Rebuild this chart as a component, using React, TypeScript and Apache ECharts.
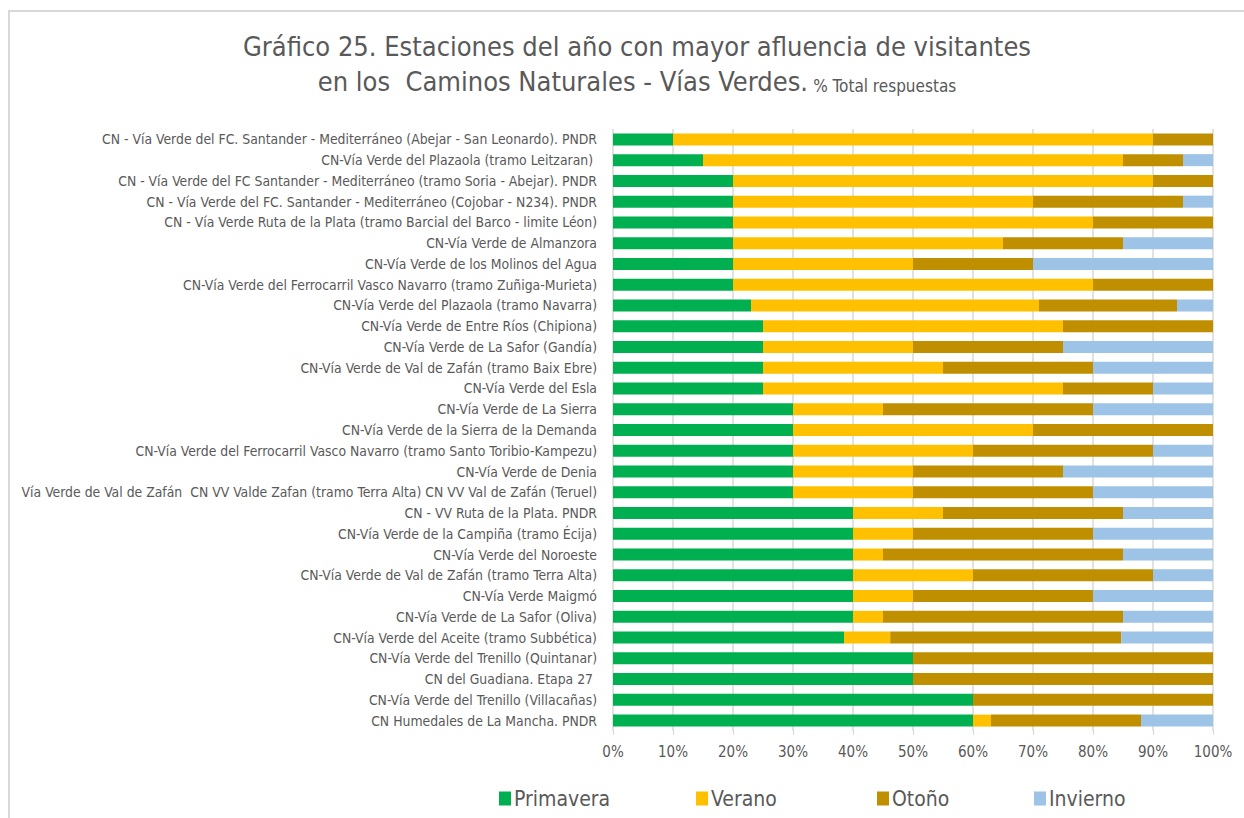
import React, { useEffect, useRef } from "react";
import * as echarts from "echarts";

const categories = [
  "CN - Vía Verde del FC. Santander - Mediterráneo (Abejar - San Leonardo). PNDR",
  "CN-Vía Verde del Plazaola (tramo Leitzaran) ",
  "CN - Vía Verde del FC Santander - Mediterráneo (tramo Soria - Abejar). PNDR",
  "CN - Vía Verde del FC. Santander - Mediterráneo (Cojobar - N234). PNDR",
  "CN - Vía Verde Ruta de la Plata (tramo Barcial del Barco - limite Léon)",
  "CN-Vía Verde de Almanzora",
  "CN-Vía Verde de los Molinos del Agua",
  "CN-Vía Verde del Ferrocarril Vasco Navarro (tramo Zuñiga-Murieta)",
  "CN-Vía Verde del Plazaola (tramo Navarra)",
  "CN-Vía Verde de Entre Ríos (Chipiona)",
  "CN-Vía Verde de La Safor (Gandía)",
  "CN-Vía Verde de Val de Zafán (tramo Baix Ebre)",
  "CN-Vía Verde del Esla",
  "CN-Vía Verde de La Sierra",
  "CN-Vía Verde de la Sierra de la Demanda",
  "CN-Vía Verde del Ferrocarril Vasco Navarro (tramo Santo Toribio-Kampezu)",
  "CN-Vía Verde de Denia",
  "Vía Verde de Val de Zafán  CN VV Valde Zafan (tramo Terra Alta) CN VV Val de Zafán (Teruel)",
  "CN - VV Ruta de la Plata. PNDR",
  "CN-Vía Verde de la Campiña (tramo Écija)",
  "CN-Vía Verde del Noroeste",
  "CN-Vía Verde de Val de Zafán (tramo Terra Alta)",
  "CN-Vía Verde Maigmó",
  "CN-Vía Verde de La Safor (Oliva)",
  "CN-Vía Verde del Aceite (tramo Subbética)",
  "CN-Vía Verde del Trenillo (Quintanar)",
  "CN del Guadiana. Etapa 27 ",
  "CN-Vía Verde del Trenillo (Villacañas)",
  "CN Humedales de La Mancha. PNDR",
];

const primavera = [10, 15, 20, 20, 20, 20, 20, 20, 23, 25, 25, 25, 25, 30, 30, 30, 30, 30, 40, 40, 40, 40, 40, 40, 38.5, 50, 50, 60, 60];
const verano = [80, 70, 70, 50, 60, 45, 30, 60, 48, 50, 25, 30, 50, 15, 40, 30, 20, 20, 15, 10, 5, 20, 10, 5, 7.7, 0, 0, 0, 3];
const otono = [10, 10, 10, 25, 20, 20, 20, 20, 23, 25, 25, 25, 15, 35, 30, 30, 25, 30, 30, 30, 40, 30, 30, 40, 38.5, 50, 50, 40, 25];
const invierno = [0, 5, 0, 5, 0, 15, 30, 0, 6, 0, 25, 20, 10, 20, 0, 10, 25, 20, 15, 20, 15, 10, 20, 15, 15.4, 0, 0, 0, 12];

const seriesNames = ["Primavera", "Verano", "Otoño", "Invierno"];
const seriesColors = ["#00B050", "#FFC000", "#BF8F00", "#9DC3E6"];
const xTicks = [0, 10, 20, 30, 40, 50, 60, 70, 80, 90, 100];

const FONT = "'Liberation Sans Narrow', 'DejaVu Sans Condensed', 'Open Sans', sans-serif";

export default function App() {
  const ref = useRef<HTMLDivElement>(null);
  useEffect(() => {
    if (!ref.current) return;
    const chart = echarts.init(ref.current, null, { renderer: "svg" });
    const values = [primavera, verano, otono, invierno];
    const legendLefts = [494, 691, 872, 1029];
    chart.setOption({
      animation: false,
      backgroundColor: "#ffffff",
      textStyle: { fontFamily: FONT },
      title: {
        left: 632,
        top: 24,
        textAlign: "center",
        text:
          "{a|Gráfico 25. Estaciones del año con mayor afluencia de visitantes}\n{a|en los  Caminos Naturales - Vías Verdes.} {b|% Total respuestas}",
        textStyle: {
          fontWeight: "normal",
          rich: {
            a: { fontFamily: FONT, fontSize: 27, fontWeight: "normal", color: "#595959", lineHeight: 35 },
            b: { fontFamily: FONT, fontSize: 17, fontWeight: "normal", color: "#595959", lineHeight: 27, padding: [8, 0, 0, 0] },
          },
        },
      },
      legend: seriesNames.map((n, i) => ({
        data: [n],
        left: legendLefts[i],
        top: 783,
        itemWidth: 12,
        itemHeight: 14,
        itemGap: 6,
        icon: "rect",
        textStyle: { fontFamily: FONT, fontSize: 21, color: "#595959", padding: [0, 0, 0, -2] },
        selectedMode: false,
      })),
      grid: { left: 613, right: 31, top: 129, bottom: 87, containLabel: false },
      xAxis: {
        type: "value",
        min: 0,
        max: 100,
        interval: 10,
        axisLabel: {
          formatter: (v: number) => (xTicks.includes(v) ? v + "%" : ""),
          fontFamily: FONT,
          fontSize: 15,
          color: "#595959",
          margin: 13,
        },
        axisLine: { show: false },
        axisTick: { show: true, length: 4, lineStyle: { color: "#d9d9d9" } },
        splitLine: { show: true, lineStyle: { color: "#d9d9d9", width: 1.5 } },
      },
      yAxis: {
        type: "category",
        data: categories,
        inverse: true,
        axisLine: { show: false },
        axisTick: { show: false },
        axisLabel: {
          fontFamily: FONT,
          fontSize: 13.85,
          color: "#595959",
          margin: 16,
        },
      },
      series: seriesNames.map((n, i) => ({
        name: n,
        type: "bar",
        stack: "total",
        barWidth: 12,
        data: values[i],
        itemStyle: {
          color: seriesColors[i],
        },
      })),
    });
    return () => chart.dispose();
  }, []);
  return (
    <div style={{ position: "fixed", left: 0, top: 0, width: 1244, height: 818, background: "#fff" }}>
      <div ref={ref} style={{ position: "absolute", left: 0, top: 0, width: 1244, height: 818 }} />
      <div
        style={{
          position: "absolute",
          left: 8,
          top: 10,
          width: 1300,
          height: 900,
          borderTop: "2px solid #d9d9d9",
          borderLeft: "2px solid #d9d9d9",
          pointerEvents: "none",
        }}
      />
    </div>
  );
}
